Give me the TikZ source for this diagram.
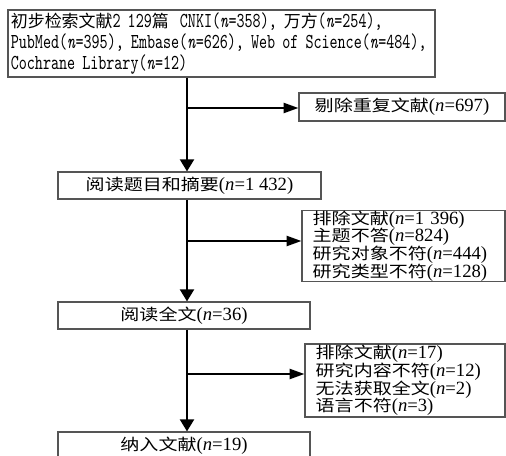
\documentclass[tikz,border=0pt]{standalone}
\usepackage{fontspec}
\setmainfont{Liberation Serif}
\newfontfamily\cjk[FakeStretch=1.2,Scale=0.85]{Noto Sans CJK SC}
\newfontfamily\cjkt[Scale=1.06]{Noto Sans CJK SC}
\newfontfamily\narrowtt[Extension=.otf,UprightFont=lmmono10-regular,ItalicFont=lmmono10-italic,FakeStretch=0.72,Scale=1.33]{lmmono10-regular}
\usetikzlibrary{arrows.meta}
\newcommand\zh[1]{{\cjk #1}}
\newcommand\zt[1]{{\cjkt #1}}
\newcommand\nv{\textit{n}}
\newcommand\boxfont{\fontsize{14}{13.3}\selectfont\lineskiplimit=-20pt\relax}
\newcommand\topfont{\fontsize{12}{15.75}\selectfont\narrowtt}
\definecolor{boxgray}{RGB}{85,85,85}
\begin{document}
\begin{tikzpicture}[x=0.75pt,y=-0.75pt,
  box/.style={draw=boxgray, line width=0.9pt, inner sep=0pt, align=center, font=\boxfont},
  exbox/.style={box, align=left, inner xsep=8pt, inner ysep=0pt},
  flow/.style={line width=1.5pt, -{Triangle[length=9pt,width=10.5pt]}},
  side/.style={line width=1.5pt, -{Triangle[length=11pt,width=7.5pt]}}]
\useasboundingbox (0,0) rectangle (506,456);
\fill[white] (0,0) rectangle (506,456);
\clip (0,0) rectangle (506,456);
% nodes
\node[box, minimum width=320.25pt, minimum height=50.25pt, text width=316pt, align=left,
  font=\topfont] (top) at (221.5,43.5)
  {\zt{初步检索文献}2 129\zt{篇}\hspace{3pt} CNKI(\nv=358), \zt{万方}(\nv=254),\\
   PubMed(\nv=395), Embase(\nv=626), Web of Science(\nv=484),\\
   Cochrane Library(\nv=12)};
\node[box, minimum width=154.5pt, minimum height=21pt] (dup) at (402,107)
  {\zh{剔除重复文献}(\nv=697)};
\node[box, minimum width=197.25pt, minimum height=20.25pt] (screen) at (189.5,185.5)
  {\zh{阅读题目和摘要}(\nv=1 432)};
\node[exbox, minimum width=152.25pt, minimum height=52.5pt, text width=136.25pt] (ex1) at (403.5,246)
  {\zh{排除文献}(\nv=1 396)\\\zh{主题不答}(\nv=824)\\\zh{研究对象不符}(\nv=444)\\\zh{研究类型不符}(\nv=128)};
\node[box, minimum width=189pt, minimum height=20.25pt] (full) at (184,315.5)
  {\zh{阅读全文}(\nv=36)};
\node[exbox, minimum width=150pt, minimum height=54.75pt, text width=134pt] (ex2) at (405,380.5)
  {\zh{排除文献}(\nv=17)\\\zh{研究内容不符}(\nv=12)\\\zh{无法获取全文}(\nv=2)\\\zh{语言不符}(\nv=3)};
\node[box, minimum width=189pt, minimum height=20.25pt] (final) at (184,445.5)
  {\zh{纳入文献}(\nv=19)};
% branch points on the spine
\coordinate (b1) at (187,108);
\coordinate (b2) at (187,241);
\coordinate (b3) at (187,374);
% connectors
\draw[flow] (top.south -| b1) -- (screen.north -| b1);
\draw[flow] (screen.south -| b2) -- (full.north -| b2);
\draw[flow] (full.south -| b3) -- (final.north -| b3);
\draw[side] (b1) -- (dup.west |- b1);
\draw[side] (b2) -- (ex1.west |- b2);
\draw[side] (b3) -- (ex2.west |- b3);
\end{tikzpicture}
\end{document}
